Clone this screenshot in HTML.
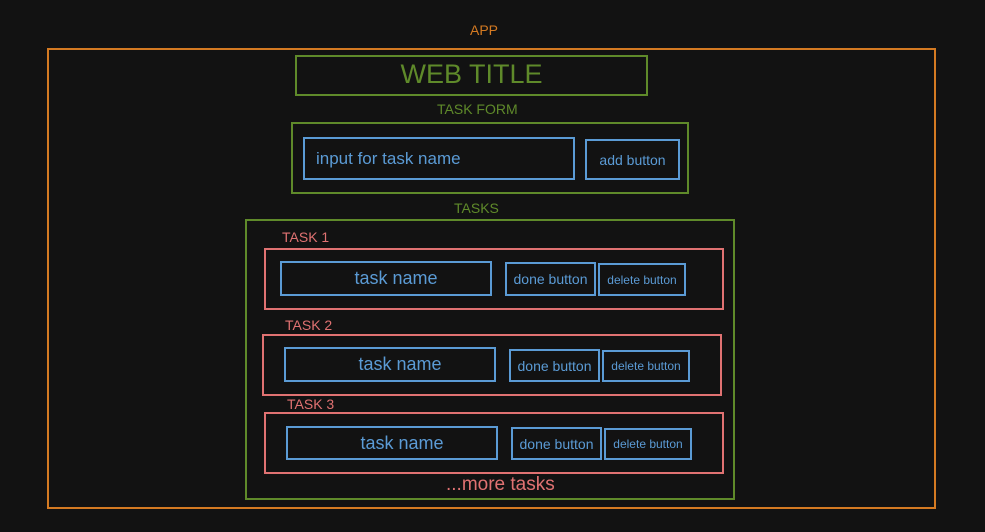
<!DOCTYPE html>
<html><head><style>
body{margin:0;background:#121212;width:985px;height:532px;position:relative;overflow:hidden;font-family:"Liberation Sans",sans-serif}
.b{position:absolute;box-sizing:border-box;border:2px solid;display:flex;align-items:center;justify-content:center}
.t{position:absolute;white-space:nowrap}
.o{border-color:#d47a22}.g{border-color:#5f8a2a}.r{border-color:#e07272}.u{border-color:#5b9bd5;color:#5b9bd5}
.n{padding-left:20px}
</style></head><body>
<div class="t" style="left:470px;top:22px;color:#d47a22;font-size:14px">APP</div>
<div class="b o" style="left:47px;top:48px;width:889px;height:461px"></div>
<div class="b g" style="left:295px;top:55px;width:353px;height:41px;color:#5f8a2a;font-size:27px;padding-bottom:3px">WEB TITLE</div>
<div class="t" style="left:437px;top:101px;color:#5f8a2a;font-size:14px">TASK FORM</div>
<div class="b g" style="left:291px;top:122px;width:398px;height:72px"></div>
<div class="b u" style="left:303px;top:137px;width:272px;height:43px;justify-content:flex-start;padding-left:11px;font-size:17px">input for task name</div>
<div class="b u" style="left:585px;top:139px;width:95px;height:41px;font-size:14px">add button</div>
<div class="t" style="left:454px;top:200px;color:#5f8a2a;font-size:14px">TASKS</div>
<div class="b g" style="left:245px;top:219px;width:490px;height:281px"></div>

<div class="t" style="left:282px;top:229px;color:#e07272;font-size:14px">TASK 1</div>
<div class="b r" style="left:264px;top:248px;width:460px;height:62px"></div>
<div class="b u n" style="left:280px;top:261px;width:212px;height:35px;font-size:18px">task name</div>
<div class="b u" style="left:505px;top:262px;width:91px;height:34px;font-size:14px">done button</div>
<div class="b u" style="left:598px;top:263px;width:88px;height:33px;font-size:12px">delete button</div>

<div class="t" style="left:285px;top:317px;color:#e07272;font-size:14px">TASK 2</div>
<div class="b r" style="left:262px;top:334px;width:460px;height:62px"></div>
<div class="b u n" style="left:284px;top:347px;width:212px;height:35px;font-size:18px">task name</div>
<div class="b u" style="left:509px;top:349px;width:91px;height:33px;font-size:14px">done button</div>
<div class="b u" style="left:602px;top:350px;width:88px;height:32px;font-size:12px">delete button</div>

<div class="t" style="left:287px;top:396px;color:#e07272;font-size:14px">TASK 3</div>
<div class="b r" style="left:264px;top:412px;width:460px;height:62px"></div>
<div class="b u n" style="left:286px;top:426px;width:212px;height:34px;font-size:18px">task name</div>
<div class="b u" style="left:511px;top:427px;width:91px;height:33px;font-size:14px">done button</div>
<div class="b u" style="left:604px;top:428px;width:88px;height:32px;font-size:12px">delete button</div>

<div class="t" style="left:446px;top:474px;color:#e07272;font-size:19px">...more tasks</div>
</body></html>
